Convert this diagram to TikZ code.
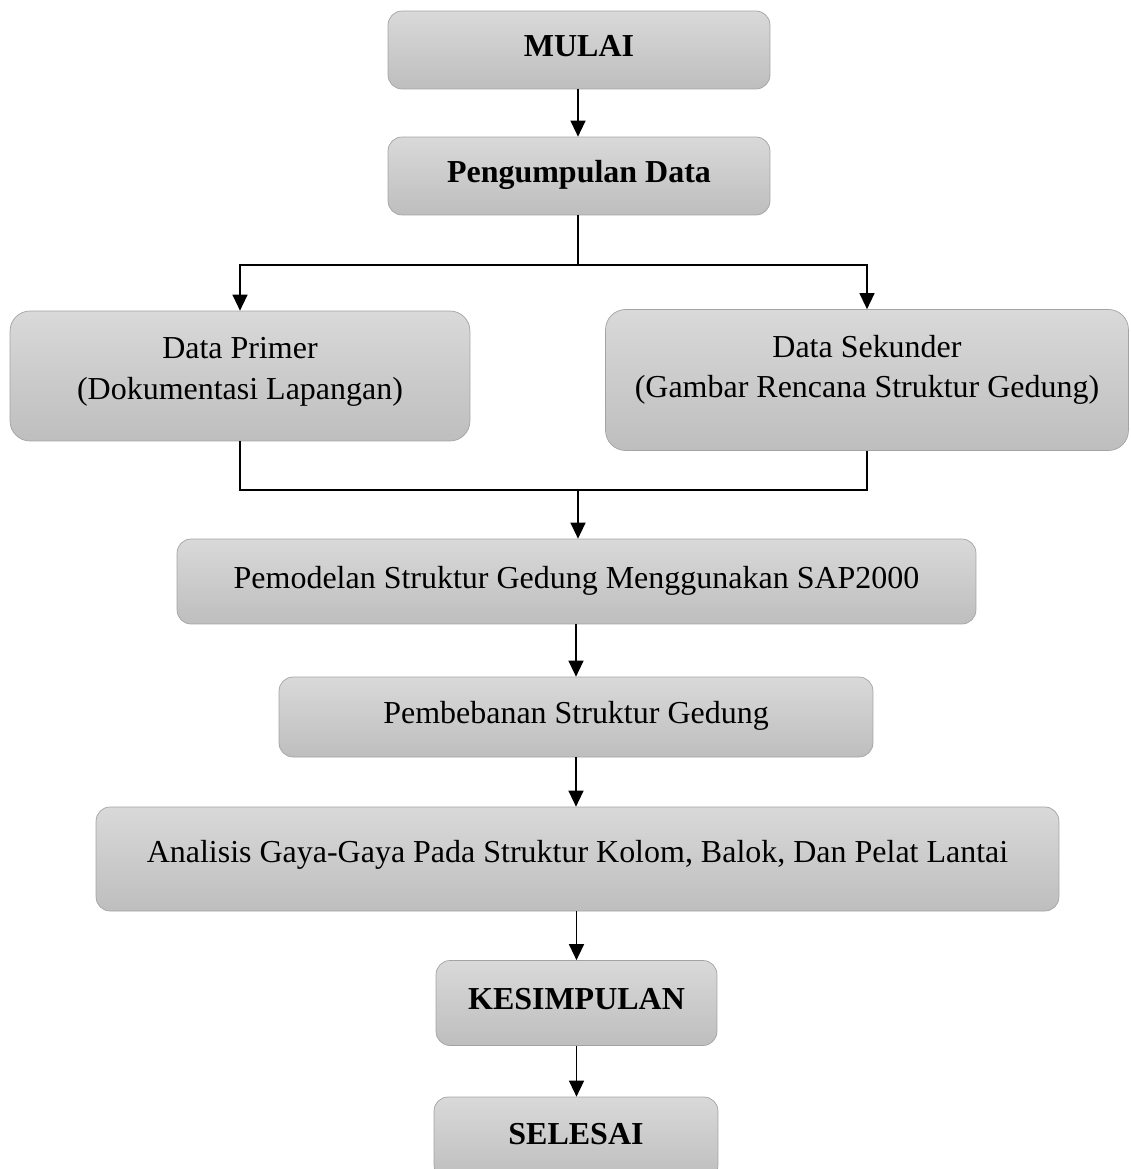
\documentclass[tikz,border=0pt]{standalone}
\usepackage{fontspec}
\setmainfont{Liberation Serif}
\usetikzlibrary{arrows.meta,positioning}
\definecolor{boxtop}{HTML}{D9D9D9}
\definecolor{boxbot}{HTML}{BEBEBE}
\definecolor{boxline}{HTML}{A3A3A3}
\begin{document}
\begin{tikzpicture}[
x=0.02cm, y=-0.02cm,
box/.style = {draw=boxline, rounded corners=0.28cm,
              top color=boxtop, bottom color=boxbot,
              align=center, text depth=0.18cm,
              font=\fontsize{18.2}{23}\selectfont},
bigbox/.style = {box, rounded corners=0.4cm},
arr/.style = {-{Triangle[width=0.3cm,length=0.32cm]}, line width=0.75pt},
line/.style = {line width=0.75pt}
                ]
\clip (0,0) rectangle (1131,1169);

\node (mulai)    [box, minimum width=7.64cm, minimum height=1.56cm] at (579,50)   {\textbf{MULAI}};
\node (kumpul)   [box, minimum width=7.64cm, minimum height=1.56cm] at (579,176)  {\textbf{Pengumpulan Data}};
\node (primer)   [bigbox, minimum width=9.2cm,  minimum height=2.6cm, text depth=0.3cm]  at (240,376) {Data Primer\\(Dokumentasi Lapangan)};
\node (sekunder) [bigbox, minimum width=10.46cm, minimum height=2.82cm, text depth=0.55cm] at (867,380) {Data Sekunder\\(Gambar Rencana Struktur Gedung)};
\node (model)    [box, minimum width=15.98cm, minimum height=1.7cm]  at (576.5,581.5) {Pemodelan Struktur Gedung Menggunakan SAP2000};
\node (beban)    [box, minimum width=11.88cm, minimum height=1.6cm]  at (576,717)    {Pembebanan Struktur Gedung};
\node (analisis) [box, minimum width=19.26cm, minimum height=2.08cm, text depth=0.3cm] at (577.5,859)  {Analisis Gaya-Gaya Pada Struktur Kolom, Balok, Dan Pelat Lantai};
\node (simpul)   [box, minimum width=5.62cm,  minimum height=1.7cm]  at (576.5,1003) {\textbf{KESIMPULAN}};
\node (selesai)  [box, minimum width=5.68cm,  minimum height=1.64cm] at (576,1138)   {\textbf{SELESAI}};

\coordinate (split) at (578,265);
\coordinate (join)  at (578,490);

\draw [arr] (mulai.south -| split) -- (kumpul.north -| split);
\draw [line] (kumpul.south -| split) -- (split);
\draw [arr] (split) -| (primer.north);
\draw [arr] (split) -| (sekunder.north);
\draw [line] (primer.south) |- (join);
\draw [line] (sekunder.south) |- (join);
\draw [arr] (join) -- (model.north -| join);
\draw [arr] (model.south -| beban) -- (beban.north);
\draw [arr] (beban.south) -- (analisis.north -| beban);
\draw [arr] (analisis.south -| simpul) -- (simpul.north);
\draw [arr] (simpul.south) -- (selesai.north -| simpul);
%%
\end{tikzpicture}
\end{document}
